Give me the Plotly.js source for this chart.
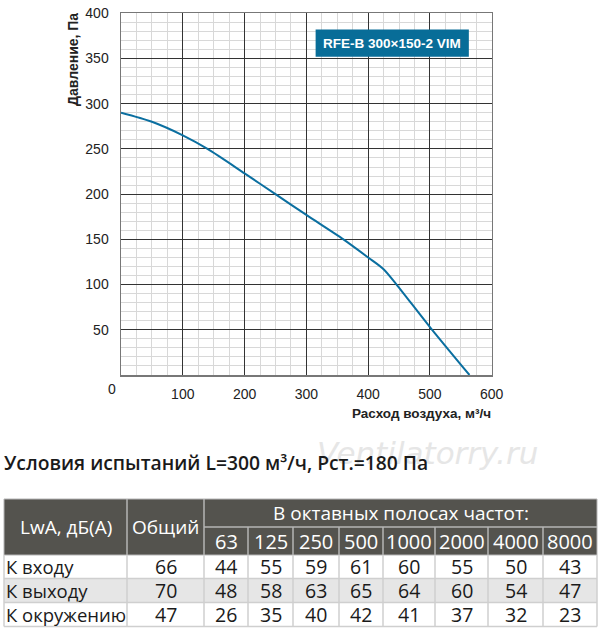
<!DOCTYPE html>
<html>
<head>
<meta charset="utf-8">
<script src="https://cdn.plot.ly/plotly-3.0.1.min.js"></script>
<style>
  body { margin: 0; background: #fff; }
  #chart { width: 600px; height: 635px; }
</style>
</head>
<body>
<div id="chart"></div>
<script>
// fan curve
const flow = [0, 50, 100, 140, 200, 250, 300, 360, 400, 425, 446, 500, 564];
const pressure = [290, 280, 265, 250, 223, 200, 177, 150, 130, 117, 100, 53, 0];

const xTicks = [100, 200, 300, 400, 500, 600];
const yTicks = [50, 100, 150, 200, 250, 300, 350, 400];
const modelName = 'RFE-B 300×150-2 VIM';

// noise table
const rowNames = ['К входу', 'К выходу', 'К окружению'];
const totals = [66, 70, 47];
const bands = ['63', '125', '250', '500', '1000', '2000', '4000', '8000'];
const inlet = [44, 55, 59, 61, 60, 55, 50, 43];
const outlet = [48, 58, 63, 65, 64, 60, 54, 47];
const surround = [26, 35, 40, 42, 41, 37, 32, 23];
const bandRows = [inlet, outlet, surround];

// page geometry in pixels
const W = 600, H = 635;
const px = x => x / W;
const py = y => 1 - y / H;
const colEdges = [4, 127, 204, 248, 293, 339, 383, 435, 488, 543, 597];
const headTop = 499, headMid = 527, headBot = 555;
const rowEdges = [555, 578.5, 602.5, 626.5];

const fam = 'Open Sans, Noto Sans, sans-serif';
const numFont = {family: fam, size: 19.5, color: '#1a1a1a'};
const nameFont = {family: fam, size: 18.5, color: '#1a1a1a'};
const headFont = {family: fam, size: 19, color: '#ffffff'};
const bandFont = {family: fam, size: 20, color: '#ffffff'};

const shapes = [];
const annotations = [];

// paper-anchored text helper
function label(x, y, text, font, xa) {
  annotations.push({xref: 'paper', yref: 'paper', x: px(x), y: py(y), text: text,
    xanchor: xa || 'center', yanchor: 'middle', borderpad: 0, showarrow: false, font: font});
}

// model badge on the chart
shapes.push({type: 'rect', xref: 'x', yref: 'y', x0: 315, x1: 563, y0: 352, y1: 382,
  fillcolor: '#086d98', line: {width: 0}, layer: 'above'});
annotations.push({xref: 'x', yref: 'y', x: 439, y: 367, text: '<b>' + modelName + '</b>',
  xanchor: 'center', yanchor: 'middle', showarrow: false,
  font: {family: 'Liberation Sans, Arial', size: 13.5, color: '#fff'}});

// axis titles and origin label
const titleFont = {family: 'Liberation Sans, Arial', size: 13.5, color: '#222'};
annotations.push({xref: 'paper', yref: 'paper', x: px(73), y: py(60), textangle: -90,
  xanchor: 'center', yanchor: 'middle', text: '<b>Давление, Па</b>', showarrow: false,
  font: {family: 'Liberation Sans, Arial', size: 14, color: '#222'}});
label(492, 413, '<b>Расход воздуха, м³/ч</b>', titleFont, 'right');
label(112, 389, '0', {family: 'Liberation Sans, Arial', size: 14, color: '#222'});

// test conditions line and watermark
label(427, 453, '<i>Ventilatorry.ru</i>', {family: 'DejaVu Sans, sans-serif', size: 31, color: '#e6e6e6'});
label(3, 463, 'Условия испытаний L=300 м³/ч, Рст.=180 Па',
  {family: fam, size: 19.3, weight: 600, color: '#1a1a1a'}, 'left');

// table backgrounds
const tl = px(colEdges[0]), tr = px(colEdges[colEdges.length - 1]);
shapes.push({type: 'rect', xref: 'paper', yref: 'paper', x0: tl, x1: tr, y0: py(headBot), y1: py(headTop),
  fillcolor: '#54534e', line: {width: 1, color: '#b5b5b5'}});
shapes.push({type: 'rect', xref: 'paper', yref: 'paper', x0: tl, x1: tr, y0: py(rowEdges[2]), y1: py(rowEdges[1]),
  fillcolor: '#e6e6e6', line: {width: 0}});
// header lines
shapes.push({type: 'line', xref: 'paper', yref: 'paper',
  x0: px(colEdges[2]), x1: tr, y0: py(headMid), y1: py(headMid), line: {width: 1.5, color: '#b5b5b5'}});
for (let i = 1; i < colEdges.length - 1; i++) {
  const top = i <= 2 ? headTop : headMid;
  shapes.push({type: 'line', xref: 'paper', yref: 'paper',
    x0: px(colEdges[i]), x1: px(colEdges[i]), y0: py(headBot), y1: py(top),
    line: {width: 1.5, color: '#b5b5b5'}});
}
// body lines
for (let i = 0; i < colEdges.length; i++) {
  shapes.push({type: 'line', xref: 'paper', yref: 'paper',
    x0: px(colEdges[i]), x1: px(colEdges[i]), y0: py(rowEdges[rowEdges.length - 1]), y1: py(headBot),
    line: {width: 1.5, color: '#cfcfcf'}});
}
for (let j = 1; j < rowEdges.length; j++) {
  shapes.push({type: 'line', xref: 'paper', yref: 'paper',
    x0: tl, x1: tr, y0: py(rowEdges[j]), y1: py(rowEdges[j]), line: {width: 1.5, color: '#cfcfcf'}});
}

const mid = (a, b) => (a + b) / 2;
label(mid(colEdges[0], colEdges[1]), mid(headTop, headBot), 'LwA, дБ(А)', headFont);
label(mid(colEdges[1], colEdges[2]), mid(headTop, headBot), 'Общий', headFont);
label(mid(colEdges[2], colEdges[colEdges.length - 1]), mid(headTop, headMid), 'В октавных полосах частот:', headFont);
bands.forEach((b, i) => label(mid(colEdges[i + 2], colEdges[i + 3]), mid(headMid, headBot), b, bandFont));

// table body
rowNames.forEach((name, r) => {
  const yc = mid(rowEdges[r], rowEdges[r + 1]);
  label(colEdges[0] + 1, yc, name, nameFont, 'left');
  label(mid(colEdges[1], colEdges[2]), yc, String(totals[r]), numFont);
  bandRows[r].forEach((v, i) => label(mid(colEdges[i + 2], colEdges[i + 3]), yc, String(v), numFont));
});

const trace = {
  x: flow, y: pressure, type: 'scatter', mode: 'lines',
  line: {color: '#0b6fa0', width: 2, shape: 'spline', smoothing: 0.8},
  hoverinfo: 'x+y'
};

const axisFont = {family: 'Liberation Sans, Arial', size: 14, color: '#222'};
const layout = {
  width: W, height: H,
  margin: {l: 0, r: 0, t: 0, b: 0},
  paper_bgcolor: '#fff', plot_bgcolor: '#fff',
  showlegend: false,
  xaxis: {
    domain: [px(121), px(491.7)], range: [0, 600],
    tickvals: xTicks, ticks: '', ticklabelstandoff: 6, tickfont: axisFont,
    showgrid: true, gridcolor: '#333', gridwidth: 1,
    minor: {dtick: 25, showgrid: true, gridcolor: '#d8d8d8', gridwidth: 1},
    showline: true, linecolor: '#777', linewidth: 1.5, mirror: true, zeroline: false,
    fixedrange: true
  },
  yaxis: {
    domain: [py(375), py(13.3)], range: [0, 400],
    tickvals: yTicks, ticks: '', ticklabelstandoff: 8, tickfont: axisFont,
    showgrid: true, gridcolor: '#333', gridwidth: 1,
    minor: {dtick: 10, showgrid: true, gridcolor: '#d8d8d8', gridwidth: 1},
    showline: true, linecolor: '#777', linewidth: 1.5, mirror: true, zeroline: false,
    fixedrange: true
  },
  shapes: shapes,
  annotations: annotations
};

Plotly.newPlot('chart', [trace], layout, {displayModeBar: false, staticPlot: true});
</script>
</body>
</html>
